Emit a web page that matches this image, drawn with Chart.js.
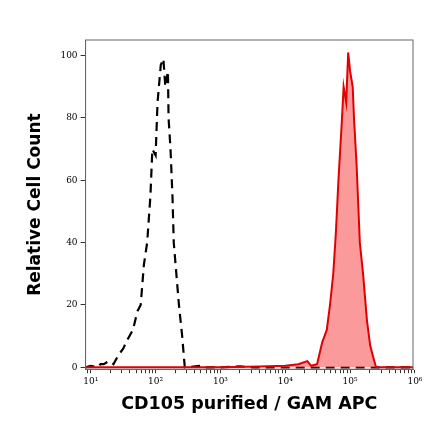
<!DOCTYPE html><html><head><script src="https://cdn.jsdelivr.net/npm/chart.js@4"></script>
<style>body{margin:0;background:#fff}#w{width:440px;height:441px}</style></head><body><div id="w"><canvas id="c"></canvas></div>
<script>
const blackX=[0.92,1.0,1.1,1.15,1.2,1.28,1.35,1.43,1.5,1.57,1.65,1.72,1.77,1.82,1.87,1.92,1.95,2.0,2.03,2.08,2.12,2.15,2.19,2.2,2.23,2.26,2.28,2.32,2.36,2.41,2.45,2.5,2.7,2.75,3.0,3.3,3.5,4.0,4.5,5.0,5.97];
const blackY=[0,0.5,0,1,1,2,1,4,6,9,12,18,20,33,40,55,70,68,85,97,99,90,95,80,70,55,40,30,20,10,0,0,0.5,0,0,0.3,0,0,0,0,0];
const redX=[0.92,2.0,3.0,3.6,4.0,4.2,4.34,4.4,4.49,4.57,4.64,4.69,4.74,4.78,4.82,4.87,4.9,4.94,4.97,5.0,5.04,5.06,5.1,5.15,5.2,5.26,5.31,5.36,5.4,5.5,5.97];
const redY=[0,0,0,0.3,0.5,1,2,0.5,1,8,12,20,30,43,60,78,90,85,101,95,90,80,65,40,30,15,7,3,0,0,0];
const xTickLabels={1:'10¹',2:'10²',3:'10³',4:'10⁴',5:'10⁵',6:'10⁶'};
const pts=(xs,ys)=>xs.map((x,i)=>({x,y:ys[i]}));
new Chart(document.getElementById('c'),{type:'scatter',data:{datasets:[
{data:pts(redX,redY),showLine:true,borderColor:'#e00000',backgroundColor:'rgba(250,120,120,0.75)',fill:'origin',borderWidth:2,pointRadius:0,tension:0},
{data:pts(blackX,blackY),showLine:true,borderColor:'#000',borderDash:[9,6],borderWidth:2.2,pointRadius:0,fill:false,tension:0}
]},options:{responsive:true,maintainAspectRatio:false,animation:false,
layout:{padding:{top:40,right:27,left:21,bottom:26}},
plugins:{legend:{display:false},tooltip:{enabled:false}},
scales:{x:{type:'linear',min:0.92,max:5.97,
afterBuildTicks:s=>{const t=[];for(let n=0;n<6;n++)for(let k=1;k<10;k++){const v=n+Math.log10(k);if(v>=0.92&&v<=5.97)t.push({value:v});}t.push({value:6-1e-9});s.ticks=t;},
ticks:{autoSkip:false,maxRotation:0,font:{family:'DejaVu Serif',size:9},color:'#000',callback:v=>{const r=Math.round(v);return Math.abs(v-r)<1e-6?xTickLabels[r]:'';}},
grid:{drawOnChartArea:false,color:'#333',tickLength:4},border:{color:'#666'},
title:{display:true,text:'CD105 purified / GAM APC',font:{family:'DejaVu Sans',size:17.5,weight:'bold'},color:'#000',padding:{top:4,bottom:0}}},
y:{min:-0.6,max:105,afterBuildTicks:s=>{s.ticks=[0,20,40,60,80,100].map(v=>({value:v}));},
ticks:{font:{family:'DejaVu Serif',size:9},color:'#000'},grid:{drawOnChartArea:false,color:'#333',tickLength:5},border:{color:'#666'},
title:{display:true,text:'Relative Cell Count',font:{family:'DejaVu Sans',size:17,weight:'bold'},color:'#000',padding:{bottom:12}}}}},
plugins:[{id:'frame',afterDraw(c){const a=c.chartArea,x=c.ctx;x.save();x.strokeStyle='#666';x.lineWidth=1;x.strokeRect(a.left,a.top,a.right-a.left,a.bottom-a.top);x.restore();}}]
});
</script></body></html>
